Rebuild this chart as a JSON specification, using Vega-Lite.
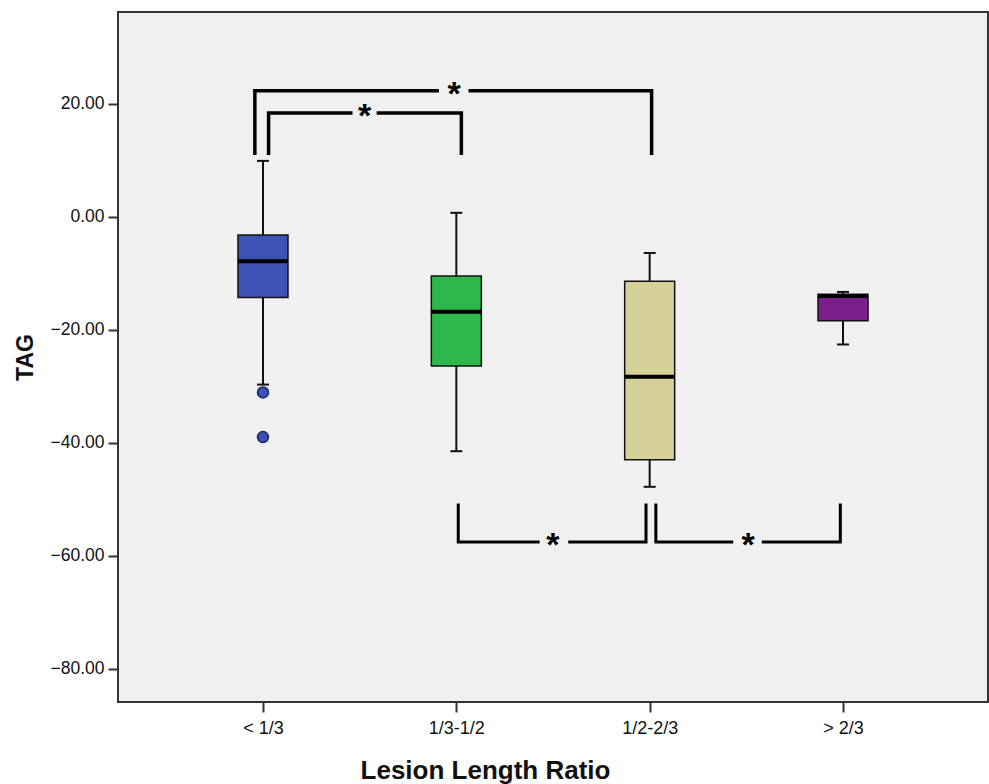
{
  "$schema": "https://vega.github.io/schema/vega-lite/v6.json",
  "width": 870,
  "height": 690,
  "autosize": {"type": "none"},
  "padding": {"left": 118, "top": 12, "right": 1, "bottom": 82},
  "background": "white",
  "config": {
    "view": {"fill": "#f0f0f0", "stroke": "#333333", "strokeWidth": 2},
    "font": "Liberation Sans",
    "axis": {"grid": false, "domain": false, "tickColor": "#333333", "tickWidth": 2, "tickSize": 10, "labelColor": "#111111", "titleColor": "#111111", "labelFont": "Liberation Sans", "titleFont": "Liberation Sans"}
  },
  "datasets": {
    "boxes": [
      {"g": 1, "grp": "< 1/3", "lo": -29.7, "q1": -14.3, "med": -7.85, "q3": -3.24, "hi": 9.9},
      {"g": 2, "grp": "1/3-1/2", "lo": -41.5, "q1": -26.4, "med": -16.8, "q3": -10.5, "hi": 0.71},
      {"g": 3, "grp": "1/2-2/3", "lo": -47.8, "q1": -43.0, "med": -28.3, "q3": -11.4, "hi": -6.4},
      {"g": 4, "grp": "> 2/3", "lo": -22.6, "q1": -18.4, "med": -14.0, "q3": -13.7, "hi": -13.3}
    ],
    "outliers": [
      {"g": 1, "v": -31.1},
      {"g": 1, "v": -39.0}
    ],
    "brackets": [
      {"seg": "a1", "ord": 1, "x": 0.958, "y": 10.93, "w": "top"},
      {"seg": "a1", "ord": 2, "x": 0.958, "y": 22.3, "w": "top"},
      {"seg": "a1", "ord": 3, "x": 1.910, "y": 22.3, "w": "top"},
      {"seg": "a2", "ord": 1, "x": 2.063, "y": 22.3, "w": "top"},
      {"seg": "a2", "ord": 2, "x": 3.010, "y": 22.3, "w": "top"},
      {"seg": "a2", "ord": 3, "x": 3.010, "y": 10.93, "w": "top"},
      {"seg": "b1", "ord": 1, "x": 1.029, "y": 10.93, "w": "top"},
      {"seg": "b1", "ord": 2, "x": 1.029, "y": 18.4, "w": "top"},
      {"seg": "b1", "ord": 3, "x": 1.463, "y": 18.4, "w": "top"},
      {"seg": "b2", "ord": 1, "x": 1.588, "y": 18.4, "w": "top"},
      {"seg": "b2", "ord": 2, "x": 2.026, "y": 18.4, "w": "top"},
      {"seg": "b2", "ord": 3, "x": 2.026, "y": 10.93, "w": "top"},
      {"seg": "c1", "ord": 1, "x": 2.010, "y": -50.77, "w": "bottom"},
      {"seg": "c1", "ord": 2, "x": 2.010, "y": -57.57, "w": "bottom"},
      {"seg": "c1", "ord": 3, "x": 2.431, "y": -57.57, "w": "bottom"},
      {"seg": "c2", "ord": 1, "x": 2.579, "y": -57.57, "w": "bottom"},
      {"seg": "c2", "ord": 2, "x": 2.981, "y": -57.57, "w": "bottom"},
      {"seg": "c2", "ord": 3, "x": 2.981, "y": -50.77, "w": "bottom"},
      {"seg": "d1", "ord": 1, "x": 3.032, "y": -50.77, "w": "bottom"},
      {"seg": "d1", "ord": 2, "x": 3.032, "y": -57.57, "w": "bottom"},
      {"seg": "d1", "ord": 3, "x": 3.432, "y": -57.57, "w": "bottom"},
      {"seg": "d2", "ord": 1, "x": 3.580, "y": -57.57, "w": "bottom"},
      {"seg": "d2", "ord": 2, "x": 3.986, "y": -57.57, "w": "bottom"},
      {"seg": "d2", "ord": 3, "x": 3.986, "y": -50.77, "w": "bottom"}
    ],
    "stars": [
      {"x": 1.988, "y": 22.3, "t": "*"},
      {"x": 1.525, "y": 18.4, "t": "*"},
      {"x": 2.499, "y": -57.57, "t": "*"},
      {"x": 3.509, "y": -57.57, "t": "*"}
    ]
  },
  "encoding": {
    "x": {
      "type": "quantitative",
      "scale": {"domain": [0.276, 4.724], "nice": false, "zero": false},
      "axis": {
        "values": [1, 2, 3, 4],
        "labelExpr": "datum.value == 1 ? '< 1/3' : datum.value == 2 ? '1/3-1/2' : datum.value == 3 ? '1/2-2/3' : '> 2/3'",
        "labelFontSize": 18,
        "labelPadding": 7,
        "title": "Lesion Length Ratio",
        "titleFontSize": 26,
        "titleFontWeight": "bold",
        "titleX": 367,
        "titleY": 68,
        "titleBaseline": "middle",
        "titleAnchor": "middle"
      }
    },
    "y": {
      "type": "quantitative",
      "scale": {"domain": [-85.9, 36.26], "nice": false, "zero": false},
      "axis": {
        "values": [-80, -60, -40, -20, 0, 20],
        "format": ".2f",
        "labelFontSize": 17.5,
        "labelPadding": 4,
        "title": "TAG",
        "titleFontSize": 23,
        "titleFontWeight": "bold",
        "titleX": -93,
        "titleY": 345,
        "titleBaseline": "middle",
        "titleAnchor": "middle"
      }
    }
  },
  "layer": [
    {
      "data": {"name": "boxes"},
      "mark": {"type": "rule", "color": "#111111", "strokeWidth": 2},
      "encoding": {
        "x": {"field": "g"},
        "y": {"field": "lo"},
        "y2": {"field": "hi"}
      }
    },
    {
      "data": {"name": "boxes"},
      "mark": {"type": "tick", "orient": "horizontal", "color": "#111111", "size": 12, "thickness": 2, "opacity": 1},
      "encoding": {"x": {"field": "g"}, "y": {"field": "lo"}}
    },
    {
      "data": {"name": "boxes"},
      "mark": {"type": "tick", "orient": "horizontal", "color": "#111111", "size": 12, "thickness": 2, "opacity": 1},
      "encoding": {"x": {"field": "g"}, "y": {"field": "hi"}}
    },
    {
      "data": {"name": "boxes"},
      "mark": {"type": "bar", "width": 50, "stroke": "#111111", "strokeWidth": 1.5, "opacity": 1},
      "encoding": {
        "x": {"field": "g"},
        "y": {"field": "q1"},
        "y2": {"field": "q3"},
        "color": {
          "field": "grp",
          "type": "nominal",
          "scale": {"domain": ["< 1/3", "1/3-1/2", "1/2-2/3", "> 2/3"], "range": ["#3c53b3", "#2db84b", "#d5cf98", "#7b1f8c"]},
          "legend": null
        }
      }
    },
    {
      "data": {"name": "boxes"},
      "mark": {"type": "tick", "orient": "horizontal", "color": "#000000", "size": 50, "thickness": 4, "opacity": 1},
      "encoding": {"x": {"field": "g"}, "y": {"field": "med"}}
    },
    {
      "data": {"name": "outliers"},
      "mark": {"type": "point", "filled": true, "shape": "circle", "size": 120, "fill": "#3c53b3", "stroke": "#1a2660", "strokeWidth": 1.5, "opacity": 1},
      "encoding": {"x": {"field": "g"}, "y": {"field": "v"}}
    },
    {
      "data": {"name": "brackets"},
      "transform": [{"filter": "datum.w == 'top'"}],
      "mark": {"type": "line", "color": "#000000", "strokeWidth": 3.5, "strokeJoin": "miter", "strokeCap": "butt"},
      "encoding": {
        "x": {"field": "x"},
        "y": {"field": "y"},
        "detail": {"field": "seg", "type": "nominal"},
        "order": {"field": "ord", "type": "quantitative"}
      }
    },
    {
      "data": {"name": "brackets"},
      "transform": [{"filter": "datum.w == 'bottom'"}],
      "mark": {"type": "line", "color": "#000000", "strokeWidth": 3, "strokeJoin": "miter", "strokeCap": "butt"},
      "encoding": {
        "x": {"field": "x"},
        "y": {"field": "y"},
        "detail": {"field": "seg", "type": "nominal"},
        "order": {"field": "ord", "type": "quantitative"}
      }
    },
    {
      "data": {"name": "stars"},
      "mark": {"type": "text", "fontSize": 34, "fontWeight": "bold", "color": "#000000", "baseline": "middle", "align": "center", "dy": 4, "font": "Liberation Sans"},
      "encoding": {
        "x": {"field": "x"},
        "y": {"field": "y"},
        "text": {"field": "t"}
      }
    }
  ]
}
